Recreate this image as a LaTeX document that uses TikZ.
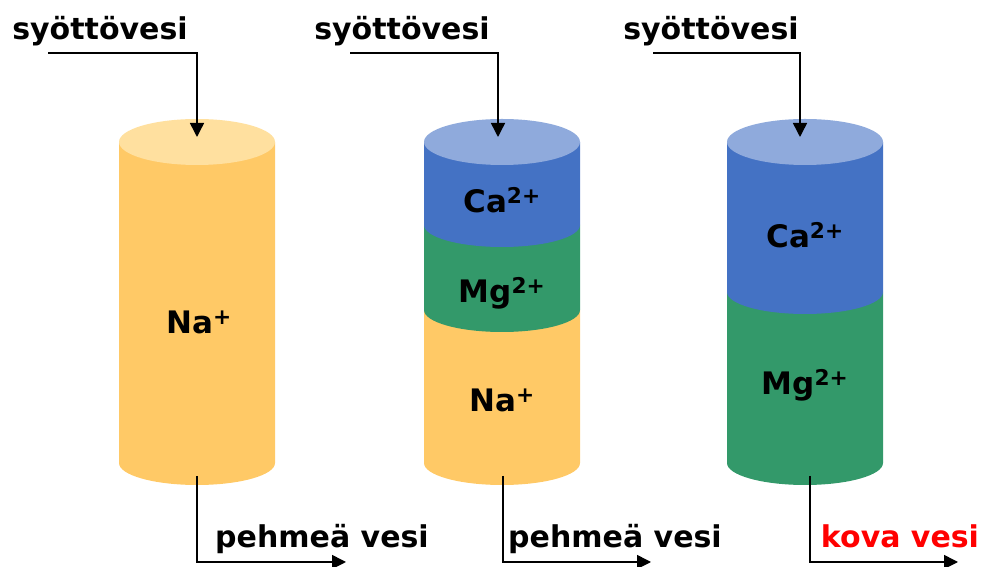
\documentclass[tikz,border=0pt]{standalone}
\usepackage{fontspec}
\setmainfont{DejaVu Sans}
\usetikzlibrary{arrows.meta}

\definecolor{naBody}{HTML}{FFC966}
\definecolor{naTop}{HTML}{FFE09F}
\definecolor{caBody}{HTML}{4472C4}
\definecolor{caTop}{HTML}{8FAADC}
\definecolor{mgBody}{HTML}{33996A}

\newcommand{\ion}[2]{#1\textsuperscript{#2}}

\begin{document}
\begin{tikzpicture}[x=1pt,y=1pt,
  flow/.style={line width=1.5pt,-{Triangle[length=14pt,width=14pt]}},
  lbl/.style={font=\fontsize{30}{34}\selectfont\bfseries,anchor=base,inner sep=0pt},
  ionlbl/.style={font=\fontsize{31}{34}\selectfont\bfseries,inner sep=0pt}]
\useasboundingbox (0,0) rectangle (997,567);
% Cylinder 1: all sodium
\fill[naBody] (119,425) -- (119,104) arc[start angle=180,end angle=360,x radius=78,y radius=22] -- (275,425) -- cycle;
\fill[naTop] (197,425) ellipse [x radius=78,y radius=23];
\node[ionlbl] (na1) at (199,245) {\ion{Na}{+}};
% Cylinder 2: calcium, magnesium and sodium layers
\fill[naBody] (424,257) -- (424,104) arc[start angle=180,end angle=360,x radius=78,y radius=22] -- (580,257) -- cycle;
\fill[mgBody] (424,342) -- (424,257) arc[start angle=180,end angle=360,x radius=78,y radius=22] -- (580,342) -- cycle;
\fill[caBody] (424,425) -- (424,342) arc[start angle=180,end angle=360,x radius=78,y radius=22] -- (580,425) -- cycle;
\fill[caTop] (502,425) ellipse [x radius=78,y radius=23];
\node[ionlbl] (ca2) at (502,367) {\ion{Ca}{2+}};
\node[ionlbl] (mg2) at (502,274) {\ion{Mg}{2+}};
\node[ionlbl] (na2) at (502,167) {\ion{Na}{+}};
% Cylinder 3: calcium and magnesium only
\fill[mgBody] (727,275) -- (727,104) arc[start angle=180,end angle=360,x radius=78,y radius=22] -- (883,275) -- cycle;
\fill[caBody] (727,425) -- (727,275) arc[start angle=180,end angle=360,x radius=78,y radius=22] -- (883,425) -- cycle;
\fill[caTop] (805,425) ellipse [x radius=78,y radius=23];
\node[ionlbl] (ca3) at (805,332) {\ion{Ca}{2+}};
\node[ionlbl] (mg3) at (805,182) {\ion{Mg}{2+}};
% Feed water in
\node[lbl] (feed1) at (100,527) {syöttövesi};
\node[lbl] (feed2) at (402,527) {syöttövesi};
\node[lbl] (feed3) at (711,527) {syöttövesi};
\coordinate (in1) at (48,514);  \coordinate (top1) at (197,430);
\coordinate (in2) at (350,514); \coordinate (top2) at (498,430);
\coordinate (in3) at (653,514); \coordinate (top3) at (800,430);
\draw[flow] (in1) -| (top1);
\draw[flow] (in2) -| (top2);
\draw[flow] (in3) -| (top3);
% Treated water out
\node[lbl] (out1) at (322,19) {pehmeä vesi};
\node[lbl] (out2) at (615,19) {pehmeä vesi};
\node[lbl,text=red] (out3) at (900,19) {kova vesi};
\coordinate (bot1) at (197,91); \coordinate (end1) at (346,5);
\coordinate (bot2) at (503,91); \coordinate (end2) at (651,5);
\coordinate (bot3) at (810,91); \coordinate (end3) at (958,5);
\draw[flow] (bot1) |- (end1);
\draw[flow] (bot2) |- (end2);
\draw[flow] (bot3) |- (end3);
\end{tikzpicture}
\end{document}
